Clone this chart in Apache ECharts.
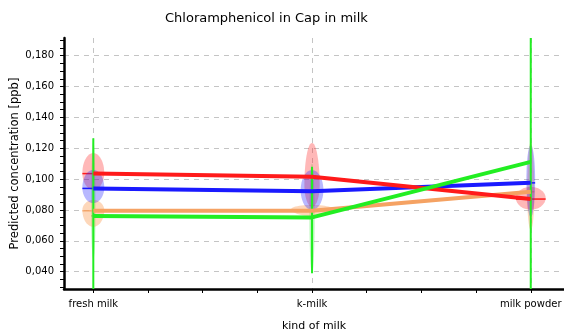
<!DOCTYPE html>
<html>
<head>
<meta charset="utf-8">
<script src="https://cdn.jsdelivr.net/npm/echarts@6/dist/echarts.min.js"></script>
<style>
html, body { margin: 0; padding: 0; background: #fff; }
#chart { width: 564px; height: 332px; }
</style>
</head>
<body>
<div id="chart"></div>
<script>
// 数据
var categories = ['fresh milk', 'k-milk', 'milk powder'];
var redValues = [0.1036, 0.1015, 0.0871];
var blueValues = [0.0940, 0.0922, 0.0976];
var orangeValues = [0.0795, 0.0795, 0.0918];
var greenValues = [0.0762, 0.0752, 0.1112];
// green range per kind: [category, high, low]
var greenRange = [[0, 0.1265, 0.020], [1, 0.108, 0.039], [2, 0.200, 0.020]];
// spread per kind: [category, low, widest, high, relative width]
var redSpread = [[0, 0.0930, 0.1040, 0.1169, 0.050], [1, 0.082, 0.0962, 0.1235, 0.035], [2, 0.0802, 0.0878, 0.0950, 0.068]];
var blueSpread = [[0, 0.0845, 0.0945, 0.1060, 0.050], [1, 0.0800, 0.0929, 0.1059, 0.052], [2, 0.0755, 0.0994, 0.1221, 0.020]];
var orangeSpread = [[0, 0.0691, 0.0799, 0.0865, 0.050], [1, 0.0761, 0.0806, 0.0833, 0.095], [2, 0.067, 0.0897, 0.124, 0.016]];
var greenSpread = [[0, 0.048, 0.078, 0.125, 0.010], [1, 0.039, 0.075, 0.110, 0.012]];
var yTicks = [0.04, 0.06, 0.08, 0.10, 0.12, 0.14, 0.16, 0.18];
var yMinorTicks = [0.030, 0.035, 0.040, 0.045, 0.050, 0.055, 0.060, 0.065, 0.070, 0.075, 0.080, 0.085, 0.090, 0.095,
    0.100, 0.105, 0.110, 0.115, 0.120, 0.125, 0.130, 0.135, 0.140, 0.145, 0.150, 0.155, 0.160, 0.165, 0.170, 0.175,
    0.180, 0.185, 0.190];
var xLabelTicks = [0, 1, 2];
var xTicks = [0, 0.25, 0.5, 0.75, 1, 1.25, 1.5, 1.75, 2];

var font = 'DejaVu Sans';
var xMin = -0.134, xMax = 2.152;
var yMin = 0.0288, yMax = 0.1915;
var gridLine = { show: true, lineStyle: { color: '#c4c4c4', type: [5, 5] } };

function toPoints(values) {
    return values.map(function (v, i) { return [i, v]; });
}

// 分布形状
function violinItem(fill, stroke, means) {
    return function (params, api) {
        var c = api.value(0), lo = api.value(1), mid = api.value(2), hi = api.value(3), w = api.value(4);
        var pts = [];
        var steps = 24;
        for (var i = 0; i <= steps; i++) {
            var a = Math.PI * i / steps;
            pts.push(api.coord([c + w * Math.cos(a), mid + (hi - mid) * Math.sin(a)]));
        }
        for (var j = 1; j < steps; j++) {
            var b = Math.PI + Math.PI * j / steps;
            pts.push(api.coord([c + w * Math.cos(b), mid + (mid - lo) * Math.sin(b)]));
        }
        var m1 = api.coord([c - w, means[c]]);
        var m2 = api.coord([c + w, means[c]]);
        return {
            type: 'group',
            children: [
                { type: 'polygon', shape: { points: pts }, style: { fill: fill } },
                { type: 'line', shape: { x1: m1[0], y1: m1[1], x2: m2[0], y2: m2[1] }, style: { stroke: stroke, lineWidth: 1.5 } }
            ]
        };
    };
}

function rangeItem(params, api) {
    var top = api.coord([api.value(0), api.value(1)]);
    var bottom = api.coord([api.value(0), api.value(2)]);
    return {
        type: 'line',
        shape: { x1: top[0], y1: top[1], x2: bottom[0], y2: bottom[1] },
        style: { stroke: '#22ee22', lineWidth: 2 }
    };
}

function lineSeries(name, values, color) {
    return {
        name: name,
        type: 'line',
        data: toPoints(values),
        symbol: 'none',
        lineStyle: { color: color, width: 4 },
        z: 5
    };
}

var chart = echarts.init(document.getElementById('chart'));
var option = {
    animation: false,
    title: {
        text: 'Chloramphenicol in Cap in milk',
        left: 160,
        top: 7,
        textStyle: { fontFamily: font, fontSize: 13, fontWeight: 'normal', color: '#000' }
    },
    grid: { left: 64, right: 0, top: 38, bottom: 43, containLabel: false, outerBoundsMode: 'none' },
    xAxis: [{
        type: 'value',
        min: xMin,
        max: xMax,
        name: 'kind of milk',
        nameLocation: 'middle',
        nameGap: 32,
        nameMoveOverlap: false,
        nameTextStyle: { fontFamily: font, fontSize: 11, color: '#000' },
        axisLine: { onZero: false, lineStyle: { color: '#000', width: 2.5 } },
        axisTick: { customValues: xTicks, length: 4, lineStyle: { color: '#000' } },
        axisLabel: {
            customValues: xLabelTicks,
            margin: 10,
            fontFamily: font,
            fontSize: 10,
            color: '#000',
            formatter: function (v) { return categories[Math.round(v)]; }
        },
        splitLine: { show: false }
    }, {
        // 网格线
        type: 'value',
        min: xMin,
        max: xMax,
        position: 'bottom',
        axisLine: { show: false },
        axisTick: { show: false, customValues: xLabelTicks },
        axisLabel: { show: false, customValues: xLabelTicks },
        splitLine: gridLine
    }],
    yAxis: [{
        type: 'value',
        min: yMin,
        max: yMax,
        name: 'Predicted concentration [ppb]',
        nameLocation: 'middle',
        nameGap: 43,
        nameMoveOverlap: false,
        nameTextStyle: { fontFamily: font, fontSize: 11.5, color: '#000' },
        axisLine: { show: true, onZero: false, lineStyle: { color: '#000', width: 2.5 } },
        axisTick: { show: true, customValues: yMinorTicks, length: 4, lineStyle: { color: '#000' } },
        axisLabel: {
            customValues: yTicks,
            margin: 10,
            fontFamily: font,
            fontSize: 10,
            color: '#000',
            formatter: function (v) { return v.toFixed(3).replace('.', ','); }
        },
        splitLine: { show: false }
    }, {
        type: 'value',
        min: yMin,
        max: yMax,
        position: 'left',
        axisLine: { show: false },
        axisTick: { show: false, customValues: yTicks },
        axisLabel: { show: false, customValues: yTicks },
        splitLine: gridLine
    }],
    series: [
        { type: 'custom', data: greenSpread, renderItem: violinItem('rgba(40,230,40,0.3)', 'rgba(34,238,34,0.6)', greenValues), z: 2 },
        { type: 'custom', data: orangeSpread, renderItem: violinItem('rgba(250,160,90,0.42)', 'rgba(245,160,95,0.8)', orangeValues), z: 2 },
        { type: 'custom', data: redSpread, renderItem: violinItem('rgba(255,40,40,0.33)', '#ff1a1a', redValues), z: 2 },
        { type: 'custom', data: blueSpread, renderItem: violinItem('rgba(40,40,255,0.33)', '#1a1aff', blueValues), z: 2 },
        { type: 'custom', data: greenRange, renderItem: rangeItem, clip: true, z: 3 },
        lineSeries('orange', orangeValues, '#f5a263'),
        lineSeries('blue', blueValues, '#1a1aff'),
        lineSeries('red', redValues, '#ff1a1a'),
        lineSeries('green', greenValues, '#22ee22')
    ]
};
chart.setOption(option);
</script>
</body>
</html>
